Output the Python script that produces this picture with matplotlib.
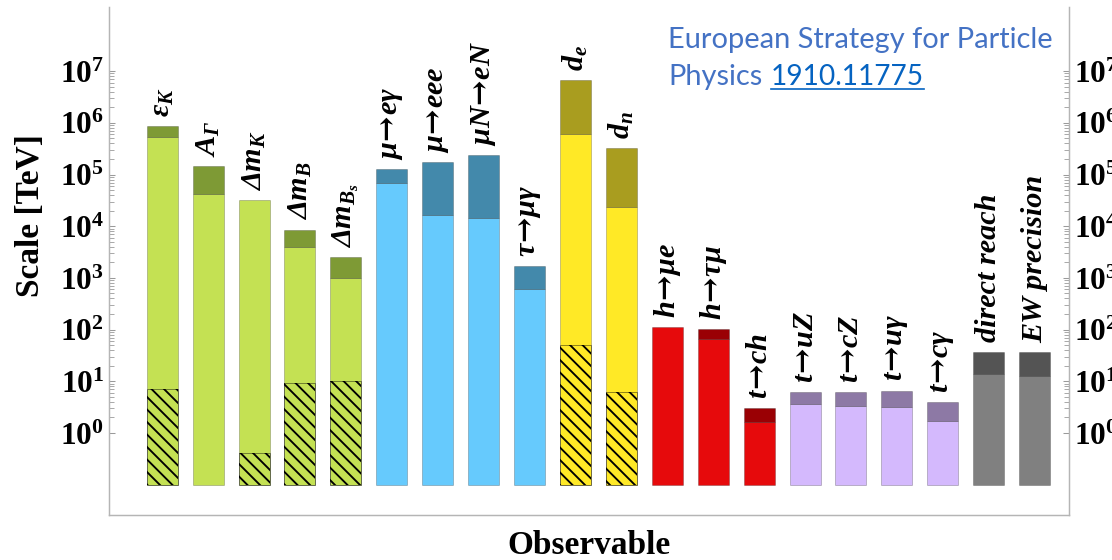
import matplotlib
matplotlib.use('Agg')
import matplotlib.pyplot as plt
import numpy as np
from matplotlib.ticker import FixedLocator, FuncFormatter, NullFormatter
from matplotlib.lines import Line2D

# ---------------- data ----------------
AR = r'\!\mathsf{\rightarrow}\!'
labels = [r'$\epsilon_K$', r'$A_\Gamma$', r'$\Delta m_K$', r'$\Delta m_B$', r'$\Delta m_{B_s}$',
          r'$\mu' + AR + r'e\gamma$', r'$\mu' + AR + r'eee$', r'$\mu N' + AR + r'eN$',
          r'$\tau' + AR + r'\mu\gamma$', r'$d_e$', r'$d_n$',
          r'$h' + AR + r'\mu e$', r'$h' + AR + r'\tau\mu$', r'$t' + AR + r'ch$',
          r'$t' + AR + r'uZ$', r'$t' + AR + r'cZ$', r'$t' + AR + r'u\gamma$',
          r'$t' + AR + r'c\gamma$',
          'direct reach', 'EW precision']
groups = ['flavour'] * 5 + ['lepton'] * 4 + ['edm'] * 2 + ['higgs'] * 3 + ['top'] * 4 + ['ew'] * 2
light_top = [5.3e5, 4.2e4, 3.2e4, 4.0e3, 1.0e3,
             7.0e4, 1.67e4, 1.46e4, 610, 6.1e5, 2.4e4,
             112, 66, 1.63, 3.7, 3.4, 3.2, 1.68,
             13.6, 12.8]
dark_top = [8.5e5, 1.44e5, 3.2e4, 8.6e3, 2.5e3,
            1.28e5, 1.71e5, 2.38e5, 1.67e3, 6.6e6, 3.2e5,
            112, 102, 3.04, 6.1, 6.1, 6.6, 4.0,
            37.4, 36.3]
hatch_top = [7.1, None, 0.41, 9.1, 10.1,
             None, None, None, None, 51, 6.1,
             None, None, None, None, None, None, None,
             None, None]
base = 0.1
y_ticks = [1e0, 1e1, 1e2, 1e3, 1e4, 1e5, 1e6, 1e7]

light_col = {'flavour': '#C4E153', 'lepton': '#66CAFD', 'edm': '#FFE926',
             'higgs': '#E60A0C', 'top': '#D4B9FD', 'ew': '#808080'}
dark_col = {'flavour': '#7E9A35', 'lepton': '#4389AB', 'edm': '#A99D1F',
            'higgs': '#9A0004', 'top': '#8D79A5', 'ew': '#545454'}

# ---------------- style ----------------
plt.rcParams['mathtext.fontset'] = 'custom'
plt.rcParams['mathtext.rm'] = 'Liberation Serif:bold:italic'
plt.rcParams['mathtext.it'] = 'Liberation Serif:bold:italic'
plt.rcParams['mathtext.bf'] = 'Liberation Serif:bold'
plt.rcParams['mathtext.sf'] = 'DejaVu Serif:bold'
plt.rcParams['mathtext.fallback'] = 'stix'
plt.rcParams['hatch.linewidth'] = 1.8
plt.rcParams['hatch.color'] = 'black'

DPI = 75
W, H = 1112, 560
fig = plt.figure(figsize=(W / DPI, H / DPI), dpi=DPI)
ax = fig.add_axes([109 / W, 45 / H, 960 / W, 508 / H])

x = np.arange(len(labels))
bw = 0.675
edge = (0, 0, 0, 0.22)

for i in range(len(labels)):
    g = groups[i]
    ax.bar(x[i], light_top[i] - base, bottom=base, width=bw, color=light_col[g],
           edgecolor=edge, linewidth=0.9, zorder=2)
    if dark_top[i] > light_top[i]:
        ax.bar(x[i], dark_top[i] - light_top[i], bottom=light_top[i], width=bw,
               color=dark_col[g], edgecolor=edge, linewidth=0.9, zorder=2)
    if hatch_top[i] is not None:
        ax.bar(x[i], hatch_top[i] - base, bottom=base, width=bw, facecolor='none',
               edgecolor='black', hatch='\\\\', linewidth=0, zorder=3)
        ax.bar(x[i], hatch_top[i] - base, bottom=base, width=bw, fill=False,
               edgecolor=(0, 0, 0, 0.45), linewidth=0.9, zorder=4)

label_font = dict(family=['Liberation Serif', 'DejaVu Serif'], weight='bold', style='italic')
for i in range(len(labels)):
    ax.annotate(labels[i], xy=(x[i], dark_top[i]), xytext=(0, 9), textcoords='offset points',
                rotation=90, ha='center', va='bottom', fontsize=29, **label_font)

ax.set_yscale('log')
ax.set_ylim(10 ** -1.586, 10 ** 8.24)
ax.set_xlim(-1.16, 19.75)
ax.set_xticks([])

ax.yaxis.set_major_locator(FixedLocator(y_ticks))
minor = [k * t for t in y_ticks[:-1] for k in range(2, 10)]
ax.yaxis.set_minor_locator(FixedLocator(minor))
ax.yaxis.set_major_formatter(FuncFormatter(lambda v, p: r'$\mathbf{10^{%d}}$' % round(np.log10(v))))
ax.yaxis.set_minor_formatter(NullFormatter())
ax.tick_params(axis='y', which='both', direction='in', left=True, right=True,
               labelleft=True, labelright=True, colors='#9a9a9a', labelcolor='black',
               labelsize=30, pad=5)
ax.tick_params(axis='y', which='major', length=6, width=1)
ax.tick_params(axis='y', which='minor', length=5, width=0.8)

for s in ['left', 'right', 'bottom']:
    ax.spines[s].set_color('#b5b5b5')
    ax.spines[s].set_linewidth(1.4)
ax.spines['top'].set_visible(False)

serif_bold = dict(family=['Liberation Serif'], weight='bold')
fig.text(31 / W, 1 - 216 / H, 'Scale [TeV]', rotation=90, ha='center', va='center',
         fontsize=32, **serif_bold)
fig.text(589 / W, 1 - 545 / H, 'Observable', ha='center', va='center',
         fontsize=32, **serif_bold)

# note text
note_font = dict(family=['Lato', 'DejaVu Sans'])
fig.text(668 / W, 1 - 48 / H, 'European Strategy for Particle', color='#4472C4',
         fontsize=27.8, va='baseline', ha='left', **note_font)
fig.text(668 / W, 1 - 85 / H, 'Physics', color='#4472C4',
         fontsize=27.8, va='baseline', ha='left', **note_font)
link = fig.text(771 / W, 1 - 85 / H, '1910.11775', color='#0563C1',
                fontsize=27, va='baseline', ha='left', **note_font)

fig.canvas.draw()
bb = link.get_window_extent(renderer=fig.canvas.get_renderer())
uy = (H - 89) / H
fig.add_artist(Line2D([bb.x0 / W, bb.x1 / W], [uy, uy], color='#0563C1', linewidth=1.6))

fig.savefig('out.png', dpi=DPI)
